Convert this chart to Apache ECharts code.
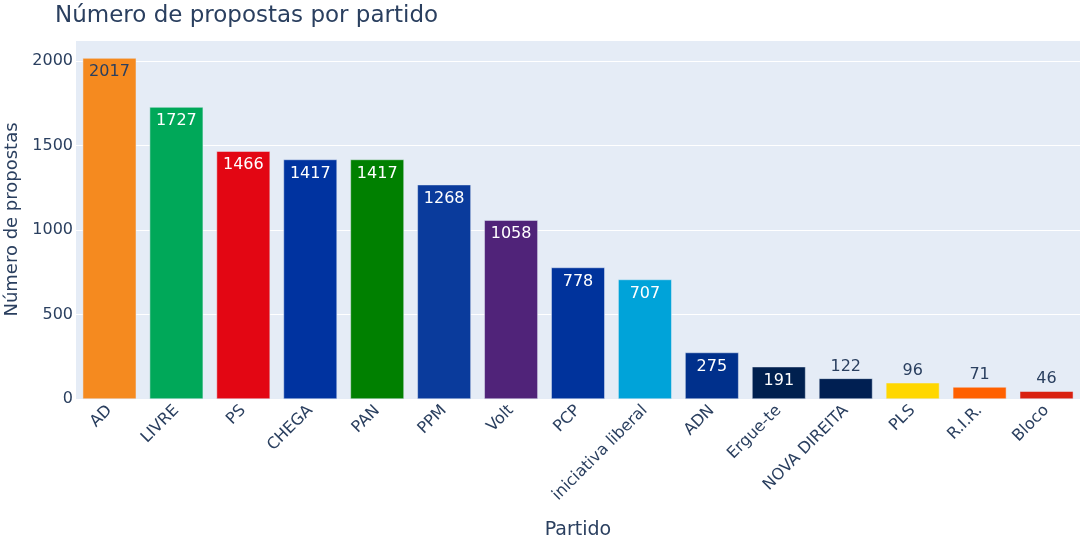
<!DOCTYPE html>
<html>

<head>
    <meta charset="utf-8" />
    <title>ECharts</title>
    <script src="https://cdn.jsdelivr.net/npm/echarts@6/dist/echarts.min.js"></script>
</head>

<body style="margin: 0">
    <div id="main" style="width: 1080px; height: 540px"></div>
    <script type="text/javascript">
        var partidos = ["AD", "LIVRE", "PS", "CHEGA", "PAN", "PPM", "Volt", "PCP",
            "iniciativa liberal", "ADN", "Ergue-te", "NOVA DIREITA", "PLS", "R.I.R.", "Bloco"];
        var propostas = [2017, 1727, 1466, 1417, 1417, 1268, 1058, 778, 707, 275, 191, 122, 96, 71, 46];
        var cores = ["#f58a1f", "#00a859", "#e30613", "#0033a0", "#008000", "#0a3b9c", "#502379", "#00339c",
            "#00a3d9", "#00308c", "#00204f", "#001f52", "#ffd700", "#ff6000", "#d92010"];
        var yTicks = [0, 500, 1000, 1500, 2000];

        var textDark = "#2a3f5f";
        var fontFam = "'DejaVu Sans', Verdana, sans-serif";

        var myChart = echarts.init(document.getElementById("main"));

        var barData = propostas.map(function (v, i) {
            var inside = v >= 150;
            return {
                value: v,
                itemStyle: { color: cores[i] },
                label: {
                    position: inside ? "insideTop" : "top",
                    distance: inside ? 6 : 4,
                    color: inside ? (i == 0 ? textDark : "#ffffff") : textDark
                }
            };
        });

        var option = {
            title: {
                text: "Número de propostas por partido",
                left: 50,
                top: 0,
                textStyle: { fontFamily: fontFam, fontSize: 23, fontWeight: "normal", color: textDark }
            },
            grid: { left: 76, right: 0, top: 40, bottom: 141, outerBoundsMode: "none" },
            xAxis: {
                type: "category",
                data: partidos,
                name: "Partido",
                nameLocation: "middle",
                nameGap: 122,
                nameTextStyle: { fontFamily: fontFam, fontSize: 19, color: textDark },
                axisLine: { show: false },
                axisTick: { show: false },
                axisLabel: { rotate: 45, interval: 0, margin: 9, fontFamily: fontFam, fontSize: 16, color: textDark }
            },
            yAxis: {
                type: "value",
                min: 0,
                max: 2124,
                interval: 500,
                name: "Número de propostas",
                nameLocation: "middle",
                nameGap: 55,
                nameTextStyle: { fontFamily: fontFam, fontSize: 18, color: textDark },
                axisLabel: {
                    fontFamily: fontFam, fontSize: 16, color: textDark, margin: 3,
                    formatter: function (v) { return yTicks.indexOf(v) >= 0 ? String(v) : ""; }
                },
                splitLine: { lineStyle: { color: "#ffffff", width: 1 } },
                axisLine: { show: false },
                axisTick: { show: false }
            },
            series: [
                {
                    type: "bar",
                    barWidth: "80%",
                    data: barData,
                    itemStyle: { borderColor: "#e5ecf6", borderWidth: 0.5 },
                    label: { show: true, fontFamily: fontFam, fontSize: 16 },
                    animation: false
                }
            ],
            backgroundColor: "#ffffff"
        };
        myChart.setOption(option);

        // plot area background
        myChart.setOption({
            graphic: [{
                type: "rect",
                z: -10,
                shape: { x: 76, y: 40, width: 1004, height: 359 },
                style: { fill: "#e5ecf6" }
            }]
        });
    </script>
</body>

</html>
